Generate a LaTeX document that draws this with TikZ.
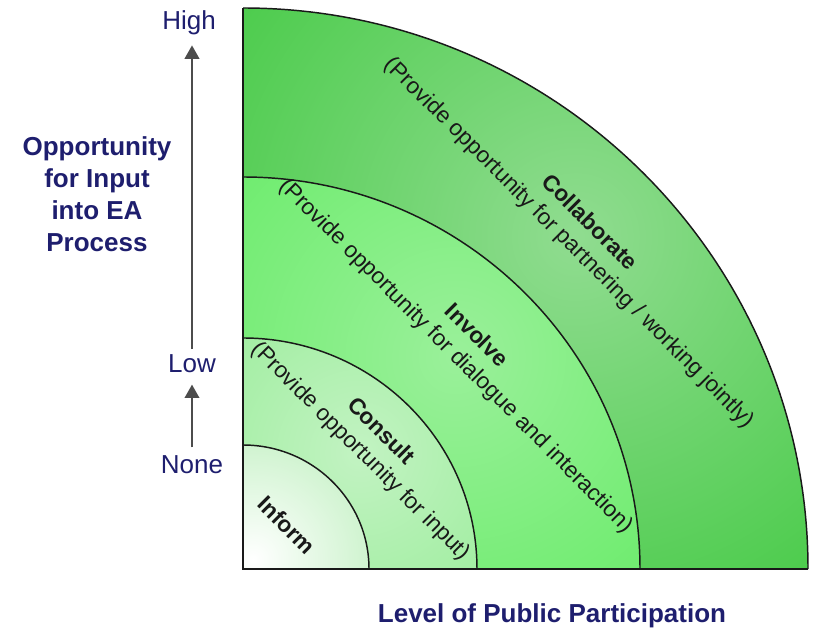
\documentclass[tikz,border=0pt]{standalone}
\usepackage{fontspec}
\setmainfont{Liberation Sans}
\usepackage{tikz}
\usetikzlibrary{arrows.meta}
\usepackage{xcolor}
\definecolor{axisblue}{HTML}{1E1E6E}
\definecolor{collabdark}{HTML}{34C634}
\definecolor{collablight}{HTML}{90DC90}
\definecolor{involvedark}{HTML}{58EA58}
\definecolor{involvelight}{HTML}{9AF09A}
\definecolor{consultdark}{HTML}{8AEA8A}
\definecolor{consultlight}{HTML}{C2F3C2}
\definecolor{informdark}{HTML}{98E698}
\definecolor{informlight}{HTML}{FFFFFF}

\begin{document}
\begin{tikzpicture}[x=0.75pt,y=0.75pt,>={Triangle[length=10pt,width=11pt]},
  axislabel/.style={text=axisblue,font=\fontsize{19.5}{24}\selectfont},
  axistitle/.style={text=axisblue,font=\fontsize{19.5}{24}\selectfont\bfseries,align=center},
  ringlabel/.style={rotate=-45,align=center,text=black!90,font=\fontsize{17}{21}\selectfont},
  ringline/.style={draw=black!90,line width=1.1pt}]
\useasboundingbox (-243,-62) rectangle (573,569);
% bands, outermost first; each one clipped to its quarter disc
\begin{scope}
\clip (0,0) -- (565,0) arc[start angle=0,end angle=90,x radius=565,y radius=561] -- cycle;
\fill[collabdark] (0,0) rectangle (565,561);
\shade[inner color=collablight,outer color=collabdark] (45:470) circle (560);
\end{scope}
\draw[ringline] (565,0) arc[start angle=0,end angle=90,x radius=565,y radius=561];
\begin{scope}
\clip (0,0) -- (397,0) arc[start angle=0,end angle=90,x radius=397,y radius=392] -- cycle;
\fill[involvedark] (0,0) rectangle (397,392);
\shade[inner color=involvelight,outer color=involvedark] (45:300) circle (440);
\end{scope}
\draw[ringline] (397,0) arc[start angle=0,end angle=90,x radius=397,y radius=392];
\begin{scope}
\clip (0,0) -- (234,0) arc[start angle=0,end angle=90,x radius=234,y radius=231] -- cycle;
\fill[consultdark] (0,0) rectangle (234,231);
\shade[inner color=consultlight,outer color=consultdark] (45:165) circle (300);
\end{scope}
\draw[ringline] (234,0) arc[start angle=0,end angle=90,x radius=234,y radius=231];
\begin{scope}
\clip (0,0) -- (126,0) arc[start angle=0,end angle=90,x radius=126,y radius=124] -- cycle;
\fill[informdark] (0,0) rectangle (126,124);
\shade[inner color=informlight,outer color=informdark] (10,10) circle (250);
\end{scope}
\draw[ringline] (126,0) arc[start angle=0,end angle=90,x radius=126,y radius=124];
\draw[ringline] (0,561) -- (0,0) -- (565,0);
% ring texts
\node[ringlabel] (inform) at (45:62) {\bfseries Inform};
\node[ringlabel] (consult) at (45:180) {\bfseries Consult\\(Provide opportunity for input)};
\node[ringlabel] (involve) at (45:315) {\bfseries Involve\\(Provide opportunity for dialogue and interaction)};
\node[ringlabel] (collab) at (45:475) {\bfseries Collaborate\\(Provide opportunity for partnering / working jointly)};
% vertical scale
\node[axislabel,anchor=base] (high) at (-54,539) {High};
\node[axislabel,anchor=base] (low) at (-51,196) {Low};
\node[axislabel,anchor=base] (none) at (-51,95) {None};
\draw[->,black!70,line width=1.1pt,shorten <=1pt,shorten >=4pt] (low) -- (low |- high.south);
\draw[->,black!70,line width=1.1pt,shorten <=3pt,shorten >=5pt] (none) -- (low);
\node[axistitle] (opp) at (-146,375) {Opportunity\\for Input\\into EA\\Process};
\node[axistitle] (level) at (309,-47) {Level of Public Participation};
\end{tikzpicture}
\end{document}
